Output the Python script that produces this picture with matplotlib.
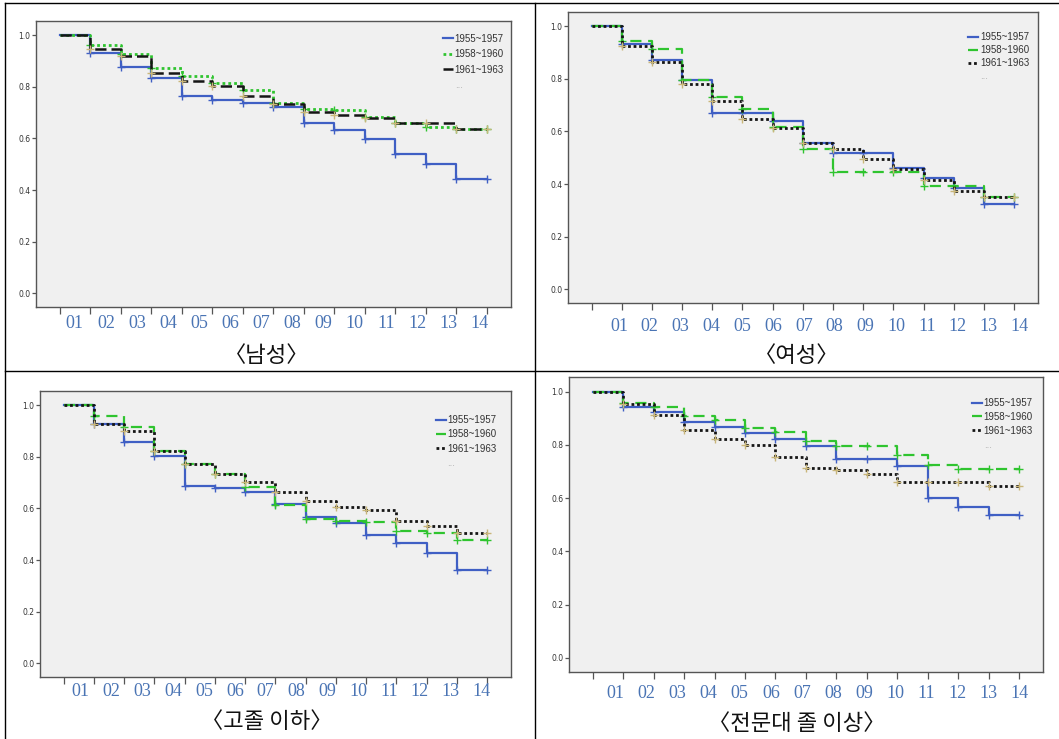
import numpy as np
import matplotlib
matplotlib.use('Agg')
import matplotlib.pyplot as plt
from matplotlib.lines import Line2D
from matplotlib import transforms

W, H = 1059, 739

periods = ['01', '02', '03', '04', '05', '06', '07', '08', '09', '10', '11', '12', '13', '14']
cohorts = ['1955~1957', '1958~1960', '1961~1963']
titles = ['〈남성〉', '〈여성〉', '〈고졸 이하〉', '〈전문대 졸 이상〉']

# survival level on each interval [t, t+1), t = 0..13
male_55 = [1.0, 0.932, 0.875, 0.836, 0.764, 0.748, 0.739, 0.723, 0.658, 0.632, 0.596, 0.539, 0.501, 0.443]
male_58 = [1.0, 0.961, 0.926, 0.871, 0.841, 0.813, 0.787, 0.739, 0.716, 0.710, 0.684, 0.661, 0.645, 0.636]
male_61 = [1.0, 0.945, 0.919, 0.854, 0.822, 0.803, 0.765, 0.732, 0.703, 0.690, 0.681, 0.661, 0.661, 0.636]

female_55 = [1.0, 0.932, 0.871, 0.795, 0.672, 0.672, 0.640, 0.556, 0.520, 0.520, 0.462, 0.422, 0.386, 0.325]
female_58 = [1.0, 0.944, 0.915, 0.795, 0.732, 0.684, 0.618, 0.532, 0.444, 0.444, 0.444, 0.392, 0.392, 0.349]
female_61 = [1.0, 0.925, 0.865, 0.782, 0.716, 0.649, 0.614, 0.556, 0.535, 0.495, 0.456, 0.415, 0.373, 0.349]

high_55 = [1.0, 0.929, 0.858, 0.803, 0.686, 0.681, 0.665, 0.617, 0.568, 0.542, 0.497, 0.465, 0.428, 0.361]
high_58 = [1.0, 0.957, 0.916, 0.822, 0.772, 0.735, 0.684, 0.615, 0.561, 0.552, 0.546, 0.514, 0.506, 0.477]
high_61 = [1.0, 0.929, 0.901, 0.822, 0.772, 0.735, 0.703, 0.662, 0.628, 0.604, 0.594, 0.551, 0.533, 0.506]

college_55 = [1.0, 0.941, 0.922, 0.885, 0.866, 0.844, 0.822, 0.797, 0.747, 0.747, 0.719, 0.600, 0.568, 0.537]
college_58 = [1.0, 0.957, 0.941, 0.910, 0.895, 0.862, 0.847, 0.813, 0.794, 0.794, 0.762, 0.725, 0.709, 0.709]
college_61 = [1.0, 0.954, 0.912, 0.857, 0.824, 0.800, 0.753, 0.715, 0.705, 0.690, 0.662, 0.662, 0.662, 0.646]

panel_data = [
    [male_55, male_58, male_61],
    [female_55, female_58, female_61],
    [high_55, high_58, high_61],
    [college_55, college_58, college_61],
]

# layout in pixels: axes box (left, top, right, bottom)
boxes = [(36, 21, 511, 307), (568, 12, 1038, 303), (40, 391, 511, 677), (569, 377, 1043, 672)]
lab_start = [0.49, 0.91, 0.56, 0.75]
lab_drop = [17, 23, 15, 21]
cap_xy = [(267, 355), (797, 355), (267, 722), (797, 723)]
leg_anchor = [(0.985, 0.955), (0.981, 0.931), (0.970, 0.916), (0.979, 0.929)]
leg_space = [0.55, 0.3, 0.45, 0.4]

blue = '#3f5fc4'
green = '#2fc42f'
black = '#151515'
tan = '#c9b679'

fig = plt.figure(figsize=(W / 100, H / 100), dpi=100)
fig.patch.set_facecolor('white')

for p in range(4):
    l, t, r, b = boxes[p]
    ax = fig.add_axes([l / W, 1 - b / H, (r - l) / W, (b - t) / H])
    ax.set_facecolor('#f0f0f0')
    for s in ax.spines.values():
        s.set_color('#555555')
        s.set_linewidth(1.0)

    if p == 0:
        styles = [dict(color=blue, ls='-', lw=1.6),
                  dict(color=green, ls=(0, (1, 1.1)), lw=2.0),
                  dict(color=black, ls=(0, (4.5, 2)), lw=1.8)]
    else:
        styles = [dict(color=blue, ls='-', lw=1.6),
                  dict(color=green, ls=(0, (5, 3)), lw=1.6),
                  dict(color=black, ls=(0, (1, 1)), lw=2.0)]
    mcols = [blue, green, tan]

    x = np.arange(15)
    handles = []
    for k, vals in enumerate(panel_data[p]):
        y = list(vals) + [vals[-1]]
        ax.step(x, y, where='post', zorder=2 + k, **styles[k])
        ax.plot(x[1:], y[1:], ls='none', marker='+', ms=5.5, mew=1.0,
                color=mcols[k], zorder=2 + k)
        handles.append(Line2D([], [], **styles[k]))
    handles.append(Line2D([], [], color='none'))

    ax.set_xlim(-0.78, 14.79)
    ax.set_ylim(-0.053, 1.055)
    ax.set_xticks(range(15))
    ax.set_xticklabels([])
    ax.set_yticks([0.0, 0.2, 0.4, 0.6, 0.8, 1.0])
    ax.set_yticklabels(['%.1f' % v for v in [0.0, 0.2, 0.4, 0.6, 0.8, 1.0]])
    ax.tick_params(axis='x', direction='out', length=5, width=0.9, color='#555555')
    ax.tick_params(axis='y', direction='out', length=3, width=0.9, color='#555555',
                   labelsize=5.5, labelcolor='#333333', pad=1)

    leg = ax.legend(handles, cohorts + ['...'], loc='upper right',
                    bbox_to_anchor=leg_anchor[p], frameon=False, borderpad=0,
                    borderaxespad=0, handlelength=1.0,
                    handletextpad=0.2, labelspacing=leg_space[p],
                    prop={'family': 'Liberation Sans', 'size': 7})
    for i, txt in enumerate(leg.get_texts()):
        txt.set_color('#333333' if i < 3 else '#aaaaaa')

    # period labels under the axis
    tr = transforms.blended_transform_factory(ax.transData, fig.transFigure)
    ylab = 1 - (b + lab_drop[p]) / H
    for i, lab in enumerate(periods):
        ax.text(lab_start[p] + 1.02 * i, ylab, lab, transform=tr, ha='center',
                va='center', fontsize=13, color='#4a74b4',
                family='Liberation Serif', clip_on=False)

    cx, cy = cap_xy[p]
    fig.text(cx / W, 1 - cy / H, titles[p], ha='center', va='center', fontsize=16,
             family=['Noto Sans CJK KR', 'DejaVu Sans'], color='#111111')

# table grid lines
grid = [((5, 3), (W, 3)), ((5, 3), (5, H)), ((535, 3), (535, H)), ((5, 371), (W, 371))]
for (x0, y0), (x1, y1) in grid:
    fig.add_artist(Line2D([x0 / W, x1 / W], [1 - y0 / H, 1 - y1 / H],
                          transform=fig.transFigure, color='black', lw=1.0))

fig.savefig('out.png', dpi=100)
